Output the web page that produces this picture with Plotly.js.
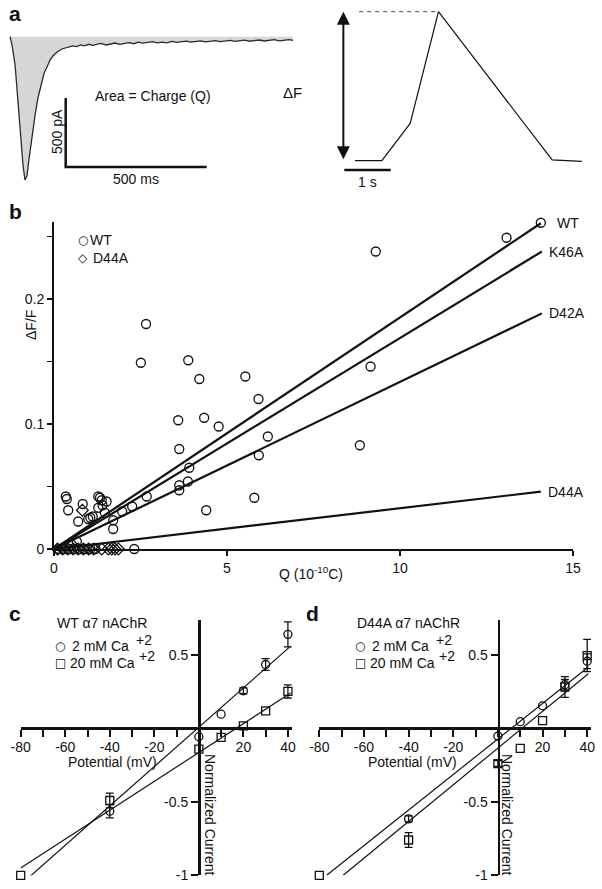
<!DOCTYPE html>
<html><head><meta charset="utf-8">
<script src="https://cdn.plot.ly/plotly-3.0.1.min.js"></script>
<style>html,body{margin:0;padding:0;background:#fff}#chart{width:602px;height:889px}</style>
</head><body><div id="chart"></div>
<script>
// ---------- Panel a (left): membrane current ----------
const currentTimeMs = [0, 7, 18, 28, 39, 46, 53, 60, 67, 78, 89, 99, 110, 121, 131, 142, 152, 167, 184, 206, 222, 236, 251, 263, 280, 294, 310, 322, 341, 356, 372, 390, 404, 421, 440, 455, 470, 489, 505, 523, 540, 556, 575, 590, 608, 626, 641, 660, 676, 694, 711, 729, 745, 763, 781, 797, 815, 832, 850, 868, 884, 902, 920, 937, 955, 972, 990, 1004];
const currentPA = [0, -60, -205, -459, -749, -930, -1038, -1009, -893, -712, -567, -444, -350, -263, -220, -169, -140, -111, -89, -75, -66, -72, -60, -67, -55, -63, -57, -49, -60, -52, -46, -55, -48, -43, -51, -40, -47, -42, -36, -45, -39, -44, -34, -41, -37, -32, -40, -35, -30, -38, -33, -28, -36, -31, -27, -34, -29, -25, -33, -28, -24, -31, -26, -22, -30, -25, -21, -27];
const scaleBarMs = [197.5, 197.5, 697.5];
const scaleBarPA = [-444, -944, -944];

// ---------- Panel a (right): fluorescence ----------
const fluorTimeS = [0.23, 0.81, 1.42, 2.03, 4.48, 5.12];
const fluorDF = [0, 0, 0.25, 1.0, 0.005, -0.004];
const fluorScaleS = [0, 1];
const fluorScaleY = [-0.0624, -0.0624];
const peakDashS = [0.32, 2.03];

// ---------- Panel b: dF/F vs Q ----------
const wtQ = [14.07, 13.08, 9.30, 9.15, 8.84, 2.66, 2.51, 3.88, 4.20, 5.53, 5.91, 3.59, 4.34, 4.76, 6.18, 3.62, 5.92, 3.91, 3.87, 3.62, 3.62, 5.79, 2.68, 4.40, 2.32, 2.26, 1.97, 0.34, 0.37, 0.41, 0.70, 0.83, 0.99, 1.05, 1.28, 1.33, 1.38, 1.52, 1.28, 1.47, 1.71, 1.71, 0.66, 0.15, 0.30, 0.45, 0.60, 0.75, 0.90, 1.05, 1.20, 1.12, 1.40];
const wtDF = [0.261, 0.249, 0.238, 0.146, 0.083, 0.180, 0.149, 0.151, 0.136, 0.138, 0.120, 0.103, 0.105, 0.098, 0.090, 0.080, 0.075, 0.065, 0.054, 0.051, 0.047, 0.041, 0.042, 0.031, 0.000, 0.034, 0.030, 0.042, 0.040, 0.031, 0.022, 0.036, 0.024, 0.025, 0.042, 0.041, 0.039, 0.038, 0.033, 0.029, 0.023, 0.016, 0.006, 0, 0, 0, 0, 0, 0, 0, 0, 0.026, 0.035];
const d44aQ = [0.10, 0.25, 0.40, 0.55, 0.70, 0.85, 1.00, 1.15, 1.38, 1.57, 1.67, 1.76, 1.86, 0.82, 0.50];
const d44aDF = [0, 0, 0, 0, 0, 0, 0, 0, 0, 0, 0, 0, 0, 0.031, 0.004];
const fitNames = ['WT', 'K46A', 'D42A', 'D44A'];
const fitEndQ = [14.07, 14.1, 14.1, 14.07];
const fitEndDF = [0.2606, 0.238, 0.1885, 0.0459];
const fitLabelShift = [14, 5, 5, 5];
const bXTicks = [0, 5, 10, 15];

// ---------- Panels c, d: I-V curves ----------
const potentialTicks = [-80, -60, -40, -20, 20, 40];
const potentialTickText = ['-80', '-60', '-40', '-20', '20', '40'];
const potentialMinorTicks = [-70, -50, -30, -10, 0, 10, 30];
const currentTicks = [-1, -0.5, 0.5];
const currentTickText = ['-1', '-0.5', '0.5'];

const cPot2 = [-40, 0, 10, 20, 30, 40];
const cCur2 = [-0.564, -0.057, 0.096, 0.255, 0.434, 0.639];
const cErr2 = [0.045, NaN, NaN, 0.02, 0.04, 0.085];
const cPot20 = [-80, -40, 0, 10, 20, 30, 40];
const cCur20 = [-1.0, -0.491, -0.142, -0.062, 0.016, 0.118, 0.251];
const cErr20 = [NaN, 0.05, NaN, NaN, NaN, NaN, 0.045];
const cFit2X = [-76, 41.2], cFit2Y = [-1.01, 0.559];
const cFit20X = [-80, 41.2], cFit20Y = [-0.95, 0.24];

const dPot2 = [-40, 0, 10, 20, 30, 40];
const dCur2 = [-0.616, -0.053, 0.045, 0.153, 0.297, 0.456];
const dErr2 = [0.02, NaN, NaN, NaN, 0.035, 0.05];
const dPot20 = [-80, -40, 0, 10, 20, 30, 40];
const dCur20 = [-1.0, -0.76, -0.24, -0.137, 0.052, 0.281, 0.495];
const dErr20 = [NaN, 0.05, 0.02, NaN, NaN, 0.07, 0.11];
const dFit2X = [-76.7, 40.5], dFit2Y = [-1.0, 0.417];
const dFit20X = [-69.3, 40.5], dFit20Y = [-1.0, 0.371];

// ---------- helpers ----------
const W = 602, H = 889;
const FONT = '"Liberation Sans", Arial, Helvetica, sans-serif';
const FS = 14;
const px = v => v / W;
const py = v => 1 - v / H;
const ydom = (top, bottom) => [py(bottom), py(top)];
const xdom = (l, r) => [px(l), px(r)];
function ann(text, x, y, o) {
  return Object.assign({text: text, x: px(x), y: py(y), xref: 'paper', yref: 'paper', showarrow: false,
    font: {family: FONT, size: FS, color: '#111'}, xanchor: 'center', yanchor: 'middle'}, o || {});
}
const black = '#111';
const traces = [];

// Panel a left
traces.push({x: currentTimeMs, y: currentPA, xaxis: 'x', yaxis: 'y', mode: 'lines', fill: 'tozeroy',
  fillcolor: '#d6d6d6', line: {color: '#2a2a2a', width: 1.3}, hoverinfo: 'skip'});
traces.push({x: scaleBarMs, y: scaleBarPA, xaxis: 'x', yaxis: 'y', mode: 'lines',
  line: {color: black, width: 2.5}, hoverinfo: 'skip'});

// Panel a right
traces.push({x: fluorTimeS, y: fluorDF, xaxis: 'x2', yaxis: 'y2', mode: 'lines',
  line: {color: black, width: 1.2}, hoverinfo: 'skip'});
const peakVal = Math.max(...fluorDF);
traces.push({x: peakDashS, y: [peakVal, peakVal], xaxis: 'x2', yaxis: 'y2', mode: 'lines',
  line: {color: '#444', width: 1, dash: '4px,4px'}, hoverinfo: 'skip'});
traces.push({x: fluorScaleS, y: fluorScaleY, xaxis: 'x2', yaxis: 'y2', mode: 'lines',
  line: {color: black, width: 2.5}, hoverinfo: 'skip'});

// Panel b
for (let i = 0; i < fitNames.length; i++) {
  traces.push({x: [0, fitEndQ[i]], y: [0, fitEndDF[i]], xaxis: 'x3', yaxis: 'y3', mode: 'lines',
    line: {color: black, width: 2.2}, cliponaxis: false, hoverinfo: 'skip'});
}
traces.push({x: wtQ, y: wtDF, xaxis: 'x3', yaxis: 'y3', mode: 'markers', cliponaxis: false,
  marker: {symbol: 'circle-open', size: 9, color: black, line: {width: 1.3}}, name: 'WT'});
traces.push({x: d44aQ, y: d44aDF, xaxis: 'x3', yaxis: 'y3', mode: 'markers', cliponaxis: false,
  marker: {symbol: 'diamond-open', size: 9, color: black, line: {width: 1.3}}, name: 'D44A'});

// Panels c, d
function ivTraces(xa, ya, p2, c2, e2, p20, c20, e20, f2x, f2y, f20x, f20y) {
  const errOpt = arr => ({type: 'data', array: arr, visible: true, color: black, thickness: 1.3, width: 4});
  traces.push({x: f2x, y: f2y, xaxis: xa, yaxis: ya, mode: 'lines', line: {color: black, width: 1.2}, cliponaxis: false, hoverinfo: 'skip'});
  traces.push({x: f20x, y: f20y, xaxis: xa, yaxis: ya, mode: 'lines', line: {color: black, width: 1.2}, cliponaxis: false, hoverinfo: 'skip'});
  traces.push({x: p2, y: c2, xaxis: xa, yaxis: ya, mode: 'markers', cliponaxis: false, error_y: errOpt(e2),
    marker: {symbol: 'circle-open', size: 8, color: black, line: {width: 1.3}}});
  traces.push({x: p20, y: c20, xaxis: xa, yaxis: ya, mode: 'markers', cliponaxis: false, error_y: errOpt(e20),
    marker: {symbol: 'square-open', size: 8, color: black, line: {width: 1.3}}});
}
ivTraces('x4', 'y4', cPot2, cCur2, cErr2, cPot20, cCur20, cErr20, cFit2X, cFit2Y, cFit20X, cFit20Y);
ivTraces('x5', 'y5', dPot2, dCur2, dErr2, dPot20, dCur20, dErr20, dFit2X, dFit2Y, dFit20X, dFit20Y);

const hidden = {visible: false, fixedrange: true};
const tickFont = {family: FONT, size: FS, color: '#111'};
function ivX(dom, ypos) {
  return {domain: dom, range: [-80, 41.7], anchor: 'free', position: ypos,
    showline: true, linewidth: 2.5, linecolor: black, zeroline: false, showgrid: false,
    tickmode: 'array', tickvals: potentialTicks, ticktext: potentialTickText,
    ticks: 'outside', ticklen: 7, tickwidth: 2, tickcolor: black, tickfont: tickFont, side: 'bottom',
    ticklabelstandoff: -2,
    minor: {tickmode: 'array', tickvals: potentialMinorTicks, ticks: 'outside', ticklen: 7, tickwidth: 2, tickcolor: black, showgrid: false}};
}
function ivY(xpos) {
  return {domain: ydom(620, 875.3), range: [-1, 0.7367], anchor: 'free', position: xpos,
    showline: true, linewidth: 2.5, linecolor: black, zeroline: false, showgrid: false,
    tickmode: 'array', tickvals: currentTicks, ticktext: currentTickText,
    ticks: 'outside', ticklen: 7, tickwidth: 2, tickcolor: black, tickfont: tickFont, side: 'left'};
}

const layout = {
  width: W, height: H, margin: {l: 0, r: 0, t: 0, b: 0},
  paper_bgcolor: '#fff', plot_bgcolor: 'rgba(0,0,0,0)', showlegend: false,
  font: {family: FONT, color: '#111'},
  xaxis: Object.assign({domain: xdom(0, 300), range: [-35.5, 1028.4], anchor: 'y'}, hidden),
  yaxis: Object.assign({domain: ydom(30, 190), range: [-1110.8, 48.5], anchor: 'x'}, hidden),
  xaxis2: Object.assign({domain: xdom(330, 600), range: [-0.308, 5.511], anchor: 'y2'}, hidden),
  yaxis2: Object.assign({domain: ydom(0, 190), range: [-0.1966, 1.0785], anchor: 'x2'}, hidden),
  xaxis3: {domain: xdom(54, 573), range: [0, 15], anchor: 'y3', showline: true, linewidth: 2, linecolor: black,
    zeroline: false, showgrid: false, tickmode: 'array', tickvals: bXTicks, ticks: 'outside', ticklen: 5,
    tickwidth: 1.5, tickcolor: black, tickfont: tickFont},
  yaxis3: {domain: ydom(222, 549), range: [0, 0.2616], anchor: 'x3', showline: true, linewidth: 2, linecolor: black,
    zeroline: false, showgrid: false, tickmode: 'linear', tick0: 0, dtick: 0.1, ticks: 'outside', ticklen: 5,
    tickwidth: 1.5, tickcolor: black, tickfont: tickFont,
    minor: {tickmode: 'linear', tick0: 0, dtick: 0.05, ticks: 'outside', ticklen: 5, tickwidth: 1.5, tickcolor: black}},
  xaxis4: ivX(xdom(20.7, 291.7), py(728.3)),
  yaxis4: ivY(px(199)),
  xaxis5: ivX(xdom(319.3, 591), py(728.3)),
  yaxis5: ivY(px(498.5)),
  annotations: []
};

const A = layout.annotations;
const bold = {family: FONT, size: 21, color: '#111', weight: 'bold'};
const glyph = {family: 'DejaVu Sans', size: 12, color: '#111'};
// panel letters
A.push(ann('<b>a</b>', 15, 13, {font: bold}));
A.push(ann('<b>b</b>', 15, 212, {font: bold}));
A.push(ann('<b>c</b>', 15, 613, {font: bold}));
A.push(ann('<b>d</b>', 312, 613, {font: bold}));
// panel a texts
A.push(ann('Area = Charge (Q)', 153, 96));
A.push(ann('500 pA', 57, 132, {textangle: -90}));
A.push(ann('500 ms', 136, 179));
A.push(ann('ΔF', 292, 92, {font: {family: FONT, size: 15, color: '#111'}}));
A.push(ann('1 s', 367, 182));
// double arrow for ΔF amplitude
A.push({x: -0.02, y: peakVal, ax: -0.02, ay: 0, xref: 'x2', yref: 'y2', axref: 'x2', ayref: 'y2',
  text: '', showarrow: true, arrowhead: 2, startarrowhead: 2, arrowside: 'end+start', arrowsize: 1.3,
  arrowwidth: 2, arrowcolor: black, standoff: 0, startstandoff: 0});
// panel b texts
A.push(ann('ΔF/F', 31, 325, {textangle: -90}));
A.push(ann('Q (10<sup>-10</sup>C)', 311, 573));
A.push(ann('○', 82.5, 240, {font: glyph}));
A.push(ann('WT', 88, 240, {xanchor: 'left'}));
A.push(ann('◇', 83, 258, {font: glyph}));
A.push(ann('D44A', 91, 258, {xanchor: 'left'}));
for (let i = 0; i < fitNames.length; i++) {
  A.push({text: fitNames[i], x: fitEndQ[i], y: fitEndDF[i], xref: 'x3', yref: 'y3', showarrow: false,
    xanchor: 'left', yanchor: 'middle', xshift: fitLabelShift[i], font: {family: FONT, size: FS, color: '#111'}});
}
// panels c, d texts
function ivText(dx, title) {
  A.push(ann(title, 55 + dx, 623, {xanchor: 'left'}));
  A.push(ann('○', 60 + dx, 646, {font: glyph}));
  A.push(ann('2 mM Ca', 70 + dx, 646, {xanchor: 'left'}));
  A.push(ann('+2', 134 + dx, 640, {xanchor: 'left'}));
  A.push(ann('□', 60 + dx, 663, {font: glyph}));
  A.push(ann('20 mM Ca', 68 + dx, 663, {xanchor: 'left'}));
  A.push(ann('+2', 137 + dx, 656, {xanchor: 'left'}));
  A.push(ann('Potential (mV)', 112 + dx, 762));
}
ivText(0, 'WT α7 nAChR');
ivText(300, 'D44A α7 nAChR');
A.push(ann('Normalized Current', 210, 814, {textangle: 90}));
A.push(ann('Normalized Current', 507, 814, {textangle: 90}));

Plotly.newPlot('chart', traces, layout, {staticPlot: true, displayModeBar: false});
</script>
</body></html>
